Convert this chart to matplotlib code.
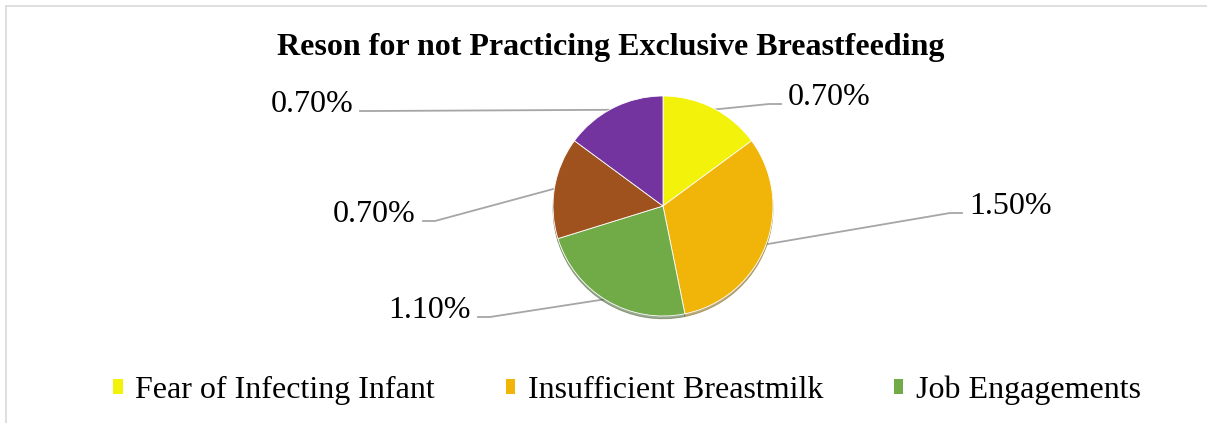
import numpy as np
import matplotlib
matplotlib.use("Agg")
import matplotlib.pyplot as plt
from matplotlib.patches import Rectangle
from matplotlib.lines import Line2D

# data
categories = ['Fear of Infecting Infant', 'Insufficient Breastmilk', 'Job Engagements',
              'Other Reason A', 'Other Reason B']
values = [0.70, 1.50, 1.10, 0.70, 0.70]
labels = ['0.70%', '1.50%', '1.10%', '0.70%', '0.70%']
colors = ['#F2F20A', '#F0B508', '#71AB48', '#A0521E', '#7334A0']

W, H = 1207, 423
plt.rcParams['font.family'] = ['Liberation Serif', 'DejaVu Serif']

fig = plt.figure(figsize=(W / 100, H / 100), dpi=100)
ax = fig.add_axes([0, 0, 1, 1])

# pie in pixel space (y measured from the bottom)
cx, cy, r = 663, H - 206, 110
wedges, _ = ax.pie(values, colors=colors, startangle=90, counterclock=False,
                   center=(cx, cy), radius=r,
                   wedgeprops=dict(edgecolor='white', linewidth=0.6),
                   shadow={'ox': 0, 'oy': -2, 'shade': 0.5})
ax.set_xlim(0, W)
ax.set_ylim(0, H)
ax.set_aspect('equal')
ax.axis('off')

# label layout: elbow point (pixels from top) and side of the text
elbows = [(769, 104, 1), (950, 213, 1), (490, 317, -1), (435, 221, -1), (372, 111, -1)]
for w, lab, (ex, ey, side) in zip(wedges, labels, elbows):
    ang = np.deg2rad((w.theta1 + w.theta2) / 2)
    ax_ = cx + r * 0.98 * np.cos(ang)
    ay_ = cy + r * 0.98 * np.sin(ang)
    ey = H - ey
    hx = ex + 12 * side
    ax.plot([ax_, ex, hx], [ay_, ey, ey], color='#A6A6A6', lw=1.3, zorder=0)
    ax.text(hx + 7 * side, ey + 7, lab, fontsize=23,
            ha='left' if side > 0 else 'right', va='center', color='black')

fig.text(611 / W, 1 - 47 / H, 'Reson for not Practicing Exclusive Breastfeeding',
         ha='center', va='center', fontsize=23, fontweight='bold')

handles = [Rectangle((0, 0), 1, 1, facecolor=c, edgecolor='none') for c in colors[:3]]
fig.legend(handles, categories[:3], loc='center', bbox_to_anchor=(627 / W, 1 - 390 / H),
           ncol=3, frameon=False, fontsize=23, handlelength=0.3, handleheight=0.35,
           handletextpad=0.4, columnspacing=2.2)

# chart area border (left and top visible)
fig.add_artist(Line2D([6 / W, 6 / W], [0, 1 - 6 / H], color='#D9D9D9', lw=1.2))
fig.add_artist(Line2D([6 / W, 1], [1 - 6 / H, 1 - 6 / H], color='#D9D9D9', lw=1.2))

fig.savefig('out.png', dpi=100)
